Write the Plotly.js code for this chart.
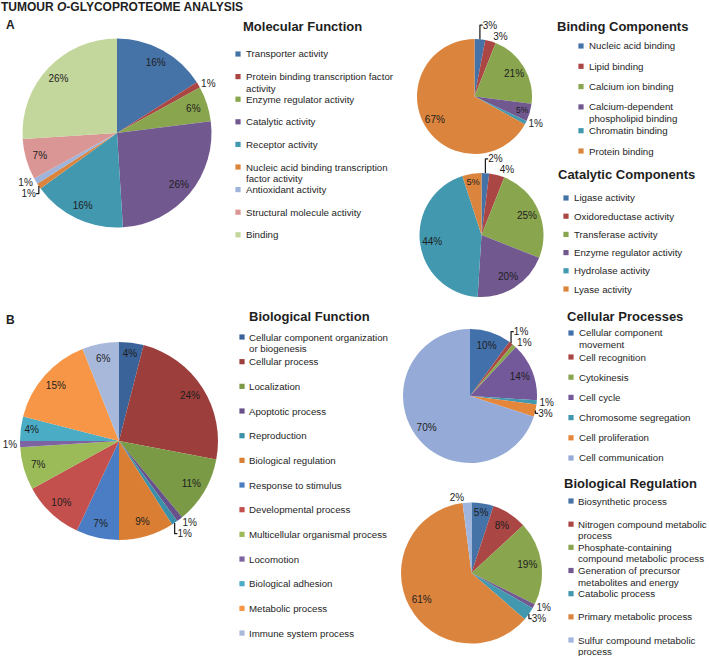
<!DOCTYPE html>
<html>
<head>
<meta charset="utf-8">
<script src="https://cdn.plot.ly/plotly-3.0.1.min.js"></script>
<style>html,body{margin:0;padding:0;background:#fff;}#chart{width:709px;height:656px;}</style>
</head>
<body>
<div id="chart"></div>
<script>
// ---------- DATA ----------
const mfLabels = ['Transporter activity', 'Protein binding transcription factor<br>activity', 'Enzyme regulator activity', 'Catalytic activity', 'Receptor activity', 'Nucleic acid binding transcription<br>factor activity', 'Antioxidant activity', 'Structural molecule activity', 'Binding'];
const mfValues = [16, 1, 6, 26, 16, 1, 1, 7, 26];

const bcLabels = ['Nucleic acid binding', 'Lipid binding', 'Calcium ion binding', 'Calcium-dependent<br>phospholipid binding', 'Chromatin binding', 'Protein binding'];
const bcValues = [3, 3, 21, 5, 1, 67];

const ccLabels = ['Ligase activity', 'Oxidoreductase activity', 'Transferase activity', 'Enzyme regulator activity', 'Hydrolase activity', 'Lyase activity'];
const ccValues = [2, 4, 25, 20, 44, 5];

const bfLabels = ['Cellular component organization<br>or biogenesis', 'Cellular process', 'Localization', 'Apoptotic process', 'Reproduction', 'Biological regulation', 'Response to stimulus', 'Developmental process', 'Multicellular organismal process', 'Locomotion', 'Biological adhesion', 'Metabolic process', 'Immune system process'];
const bfValues = [4, 24, 11, 1, 1, 9, 7, 10, 7, 1, 4, 15, 6];

const cpLabels = ['Cellular component<br>movement', 'Cell recognition', 'Cytokinesis', 'Cell cycle', 'Chromosome segregation', 'Cell proliferation', 'Cell communication'];
const cpValues = [10, 1, 1, 14, 1, 3, 70];

const brLabels = ['Biosynthetic process', 'Nitrogen compound metabolic<br>process', 'Phosphate-containing<br>compound metabolic process', 'Generation of precursor<br>metabolites and energy', 'Catabolic process', 'Primary metabolic process', 'Sulfur compound metabolic<br>process'];
const brValues = [5, 8, 19, 1, 3, 61, 2];

// ---------- STYLES ----------
const mfColors = ['#4572A7', '#AA4643', '#89A54E', '#71588F', '#4198AF', '#DB843D', '#9FB4DA', '#D99694', '#C3D69B'];
const bcColors = ['#4572A7', '#AA4643', '#89A54E', '#71588F', '#4198AF', '#DB843D'];
const ccColors = ['#4572A7', '#AA4643', '#89A54E', '#71588F', '#4198AF', '#DB843D'];
const bfColors = ['#3A6399', '#9C3E3B', '#7A9A46', '#68508A', '#3A90A8', '#D97E33', '#4A7DC4', '#C4504E', '#9BBB59', '#7E63A3', '#4BACC6', '#F79646', '#A8B8DA'];
const cpColors = ['#4270AA', '#AA4643', '#89A54E', '#74599A', '#4198AF', '#E4873B', '#95AAD6'];
const brColors = ['#4572A7', '#AA4643', '#89A54E', '#71588F', '#4198AF', '#DB843D', '#A0B6DE'];

const W = 709, H = 656;
const FONT = "'Liberation Sans', Arial, sans-serif";
const TXT = '#1e1e1e';
const LEG_SIZE = 9.7;

// geometry (pixels): pie centre/radius, label ring hole, legend placement
const charts = [
  {title: 'Molecular Function', labels: mfLabels, values: mfValues, colors: mfColors,
   pie: {cx: 117, cy: 133, r: 94.5, hole: 0.7, inMin: 2},
   leg: {tx: 242, ty: 27, sx: 238, lx: 245, y0: 54, step: 22.6, extra: 0}},
  {title: 'Binding Components', labels: bcLabels, values: bcValues, colors: bcColors,
   pie: {cx: 474.5, cy: 96.5, r: 57.5, hole: 0.6, inMin: 4},
   leg: {tx: 556, ty: 27, sx: 581, lx: 588, y0: 46, step: 20.3, extra: 3.5}},
  {title: 'Catalytic Components', labels: ccLabels, values: ccValues, colors: ccColors,
   pie: {cx: 481.5, cy: 235, r: 62, hole: 0.6, inMin: 5},
   leg: {tx: 557, ty: 174, sx: 566, lx: 573, y0: 198, step: 18.2, extra: 0}},
  {title: 'Biological Function', labels: bfLabels, values: bfValues, colors: bfColors,
   pie: {cx: 119, cy: 441, r: 99, hole: 0.7, inMin: 2},
   leg: {tx: 248, ty: 316, sx: 242, lx: 248, y0: 337, step: 24.67, extra: 0}},
  {title: 'Cellular Processes', labels: cpLabels, values: cpValues, colors: cpColors,
   pie: {cx: 470, cy: 396, r: 67, hole: 0.6, inMin: 4},
   leg: {tx: 566, ty: 317, sx: 571, lx: 578, y0: 333, step: 20.2, extra: 3.8}},
  {title: 'Biological Regulation', labels: brLabels, values: brValues, colors: brColors,
   pie: {cx: 471.5, cy: 573, r: 70.5, hole: 0.6, inMin: 4},
   leg: {tx: 563, ty: 483, sx: 571, lx: 577, y0: 501, step: 23.17, extra: 0}}
];

const px = x => x / W;
const py = y => 1 - y / H;

const traces = [];
const annotations = [];
const shapes = [];

charts.forEach(c => {
  const g = c.pie;
  const domain = {x: [px(g.cx - g.r), px(g.cx + g.r)], y: [py(g.cy + g.r), py(g.cy - g.r)]};
  // coloured slices
  traces.push({
    type: 'pie', labels: c.labels, values: c.values, sort: false, direction: 'clockwise', rotation: 0,
    marker: {colors: c.colors, line: {width: 0}}, textinfo: 'none', domain: domain,
    showlegend: false, hoverinfo: 'label+value'
  });
  // percentage labels (transparent ring so labels sit near the rim)
  traces.push({
    type: 'pie', labels: c.labels, values: c.values, sort: false, direction: 'clockwise', rotation: 0,
    marker: {colors: c.labels.map(() => 'rgba(0,0,0,0)'), line: {width: 0}}, hole: g.hole,
    texttemplate: '%{value}%', textposition: c.values.map(v => v >= g.inMin ? 'inside' : 'outside'),
    insidetextorientation: 'horizontal',
    textfont: {family: FONT, size: 10, color: TXT},
    insidetextfont: {family: FONT, size: 10, color: TXT},
    outsidetextfont: {family: FONT, size: 10, color: TXT},
    domain: domain, showlegend: false, hoverinfo: 'skip'
  });
  // legend title
  const L = c.leg;
  annotations.push({xref: 'paper', yref: 'paper', x: px(L.tx - 1), y: py(L.ty), xanchor: 'left', yanchor: 'middle',
    text: '<b>' + c.title + '</b>', showarrow: false, font: {family: FONT, size: 13, color: TXT}});
  // legend items
  let multi = 0;
  c.labels.forEach((lab, i) => {
    const y = L.y0 + i * L.step + multi * L.extra;
    const lines = lab.split('<br>');
    if (lines.length > 1) multi += 1;
    shapes.push({type: 'rect', xref: 'paper', yref: 'paper', x0: px(L.sx - 2.6), x1: px(L.sx + 2.6),
      y0: py(y + 2.6), y1: py(y - 2.6), fillcolor: c.colors[i], line: {width: 0}});
    lines.forEach((ln, k) => {
      annotations.push({xref: 'paper', yref: 'paper', x: px(L.lx - 1), y: py(y + k * 11.5), xanchor: 'left', yanchor: 'middle',
        text: ln, showarrow: false, font: {family: FONT, size: LEG_SIZE, color: TXT}});
    });
  });
});

// figure title and panel letters
annotations.push({xref: 'paper', yref: 'paper', x: px(-1), y: py(7), xanchor: 'left', yanchor: 'middle',
  text: '<b>TUMOUR <i>O</i>-GLYCOPROTEOME ANALYSIS</b>', showarrow: false, font: {family: FONT, size: 12, color: TXT}});
annotations.push({xref: 'paper', yref: 'paper', x: px(4), y: py(25), xanchor: 'left', yanchor: 'middle',
  text: '<b>A</b>', showarrow: false, font: {family: FONT, size: 12, color: TXT}});
annotations.push({xref: 'paper', yref: 'paper', x: px(4), y: py(319.5), xanchor: 'left', yanchor: 'middle',
  text: '<b>B</b>', showarrow: false, font: {family: FONT, size: 12, color: TXT}});

const layout = {
  width: W, height: H, margin: {l: 0, r: 0, t: 0, b: 0},
  paper_bgcolor: '#ffffff', plot_bgcolor: '#ffffff',
  showlegend: false, font: {family: FONT, size: 10, color: TXT},
  annotations: annotations, shapes: shapes
};

Plotly.newPlot('chart', traces, layout, {displayModeBar: false, staticPlot: true});
</script>
</body>
</html>
